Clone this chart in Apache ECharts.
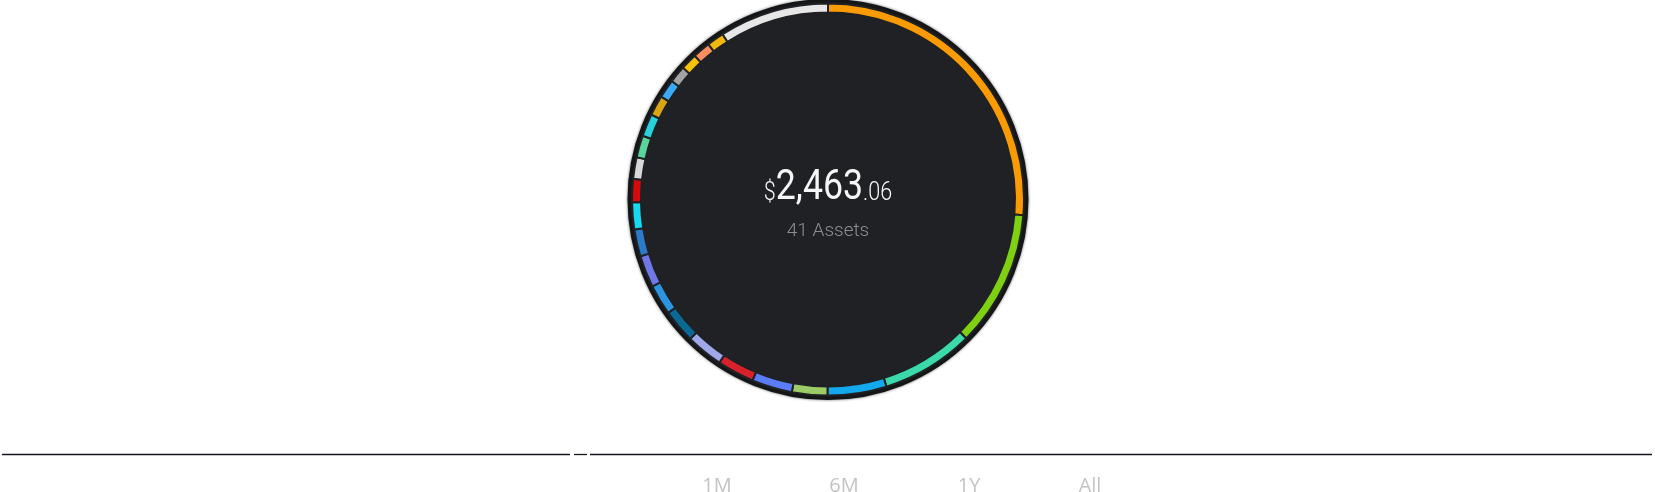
<!DOCTYPE html>
<html>
<head>
<meta charset="utf-8">
<script src="https://cdn.jsdelivr.net/npm/echarts@6/dist/echarts.min.js"></script>
<style>
  html, body { margin: 0; padding: 0; background: #fff; }
  #main { width: 1655px; height: 492px; }
</style>
</head>
<body>
<div id="main"></div>
<script>
// portfolio slices, clockwise from 12 o'clock (values in $)
var assetValues = [647.3, 277.1, 188.2, 119.7, 71.8, 82.1, 75.3, 75.3, 68.4, 61.6, 65.0, 54.7,
  54.7, 47.2, 43.8, 44.5, 45.8, 41.1, 37.6, 34.9, 33.5, 35.6, 34.9, 222.4];
var assetColors = ['#fb9b04', '#7fcf12', '#3adaaa', '#14a8ec', '#9ccc65', '#5b7cf7', '#d8222b',
  '#9fa8ea', '#0b6996', '#2b95e2', '#6f78e6', '#2c7bc9', '#17d8f0', '#d60a0a', '#d8d8d8',
  '#5cd39b', '#26d2dc', '#dba414', '#3aa9f6', '#a3a3a3', '#f7c208', '#fb8d5f', '#f0b70c', '#e7e7e7'];
var totalWhole = '2,463';
var totalCents = '.06';
var assetCount = 41;
var rangeLabels = ['1M', '6M', '1Y', 'All'];
var rangeX = [717, 844, 969, 1090];

var chartDom = document.getElementById('main');
var myChart = echarts.init(chartDom);

var cx = 828, cy = 199.5;

var pieData = assetValues.map(function (v, i) {
  return { name: 'asset ' + (i + 1), value: v, itemStyle: { color: assetColors[i] } };
});

var lineStyle = { stroke: '#16161d', lineWidth: 1.3 };

var graphics = [
  {
    type: 'text',
    x: cx, y: 210,
    scaleX: 0.83,
    style: {
      text: '{s|$}{b|' + totalWhole + '}{s|' + totalCents + '}',
      align: 'center',
      verticalAlign: 'bottom',
      rich: {
        b: { fontFamily: 'Roboto', fontWeight: 400, fontSize: 43, fill: '#f6f6f6', verticalAlign: 'bottom' },
        s: { fontFamily: 'Roboto', fontWeight: 300, fontSize: 26, fill: '#f6f6f6', verticalAlign: 'bottom', padding: [0, 0, 4, 0] }
      }
    },
    z: 10
  },
  {
    type: 'text',
    x: cx, y: 231,
    style: {
      text: assetCount + ' Assets',
      align: 'center', verticalAlign: 'middle',
      fontFamily: 'Roboto', fontWeight: 300, fontSize: 19, fill: '#8b8e92'
    },
    z: 10
  },
  // divider lines under the chart
  { type: 'line', shape: { x1: 2, y1: 454.5, x2: 570, y2: 454.5 }, style: lineStyle },
  { type: 'line', shape: { x1: 574, y1: 454.5, x2: 587, y2: 454.5 }, style: lineStyle },
  { type: 'line', shape: { x1: 590, y1: 454.5, x2: 1652, y2: 454.5 }, style: lineStyle }
];
rangeLabels.forEach(function (t, i) {
  graphics.push({
    type: 'text', x: rangeX[i], y: 486,
    style: { text: t, align: 'center', verticalAlign: 'middle', fontFamily: 'Open Sans', fontSize: 20, fill: '#c4c4c4' }
  });
});

var option = {
  backgroundColor: '#ffffff',
  animation: false,
  series: [
    {
      // dark disc behind the ring
      type: 'pie',
      silent: true,
      center: [cx, cy],
      radius: [0, 199],
      label: { show: false },
      labelLine: { show: false },
      itemStyle: {
        color: '#1f2124', borderColor: '#151618', borderWidth: 3,
        shadowBlur: 3, shadowColor: 'rgba(0,0,0,0.5)'
      },
      data: [{ value: 1 }],
      z: 1
    },
    {
      type: 'pie',
      center: [cx, cy],
      radius: [187, 196],
      startAngle: 90,
      clockwise: true,
      label: { show: false },
      labelLine: { show: false },
      itemStyle: { borderColor: '#1f2124', borderWidth: 2 },
      emphasis: { disabled: true },
      data: pieData,
      z: 2
    }
  ],
  graphic: graphics
};
myChart.setOption(option);
window.onresize = function () {
  myChart.resize();
};
</script>
</body>
</html>
